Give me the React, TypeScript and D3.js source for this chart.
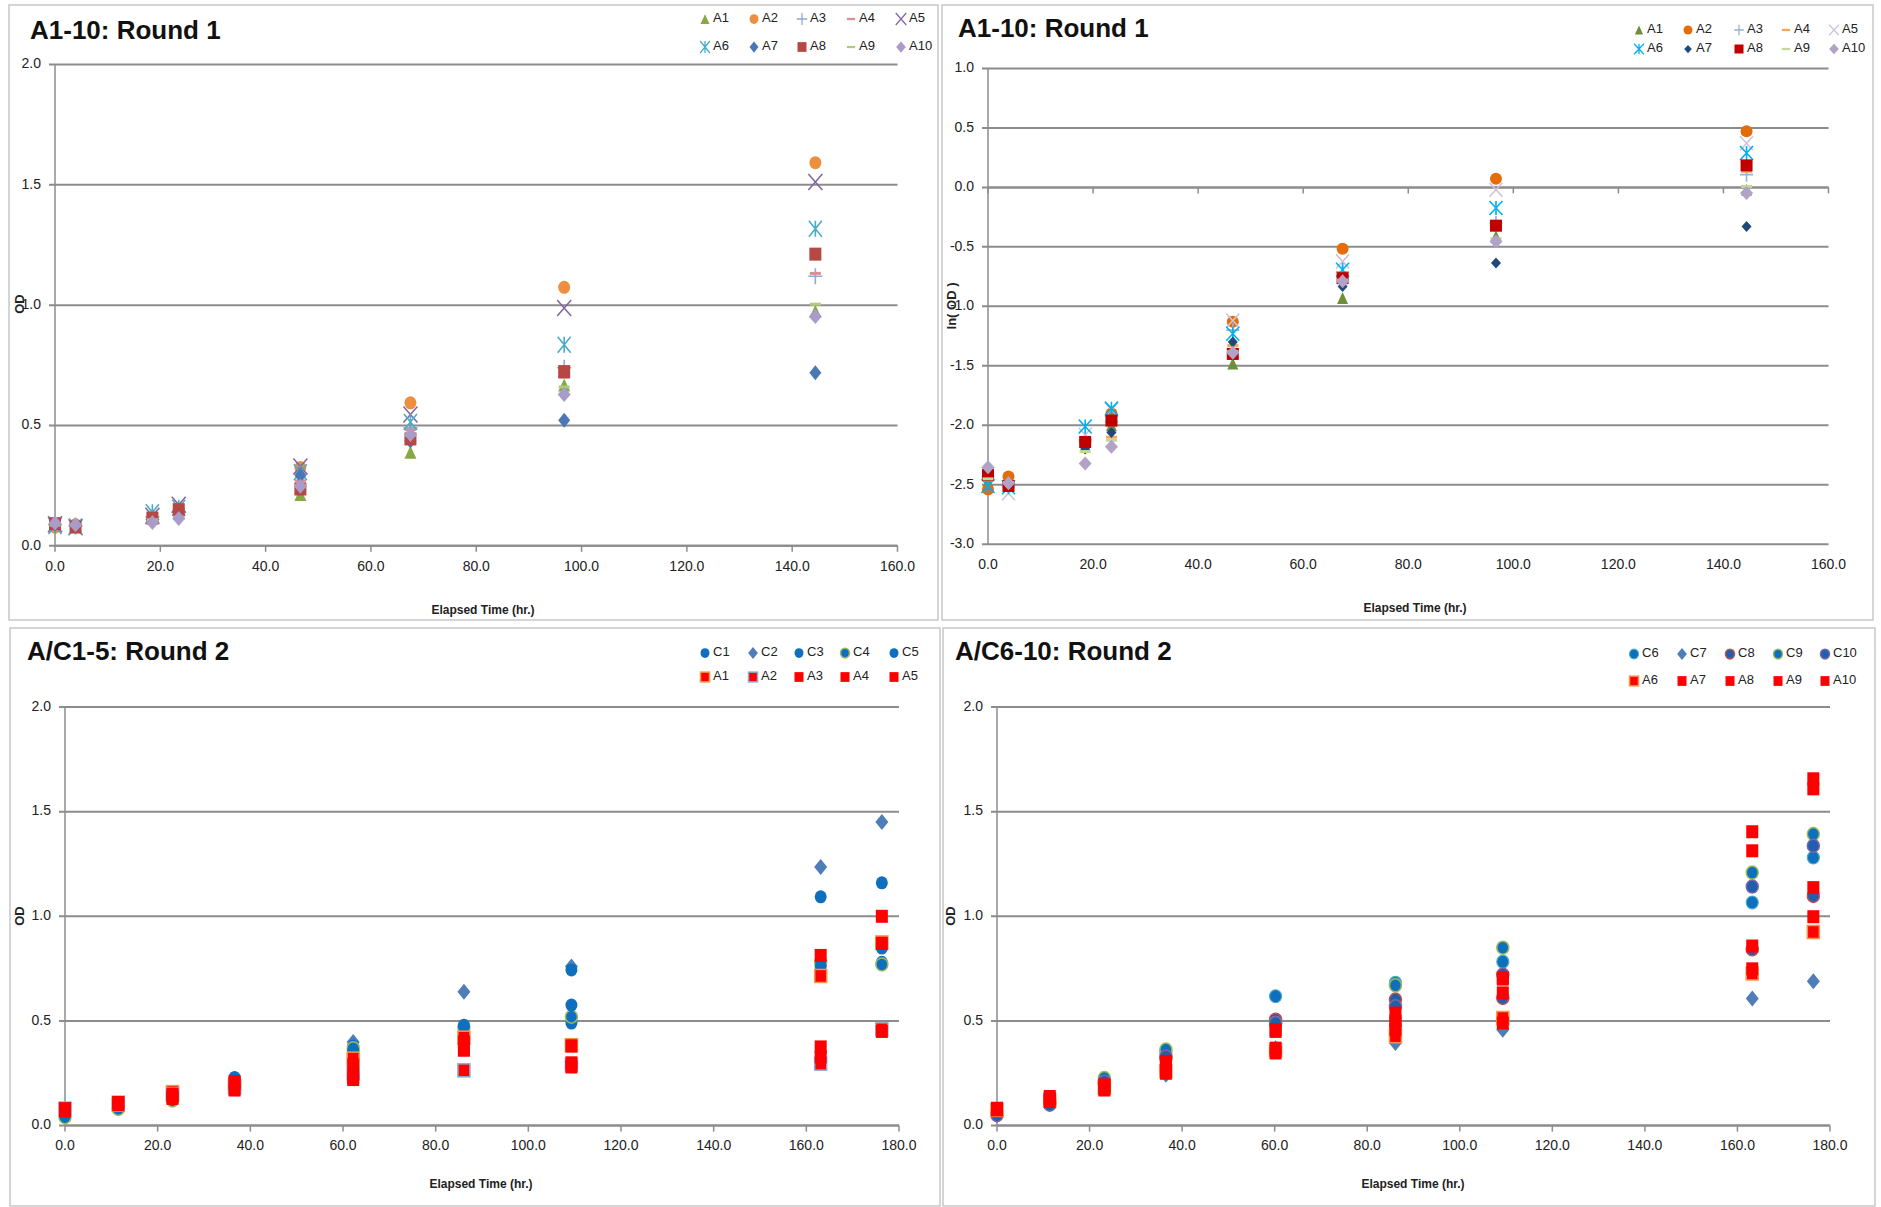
import React from 'react';
import * as d3 from 'd3';

// ---------- Round 1 data (OD) ----------
const TIMES_R1 = [0, 3.9, 18.5, 23.5, 46.6, 67.5, 96.7, 144.4];
const OD_A1 = [0.085, 0.085, 0.122, 0.135, 0.213, 0.389, 0.668, 0.975];
const OD_A2 = [0.078, 0.088, 0.118, 0.15, 0.325, 0.594, 1.074, 1.592];
const OD_A3 = [0.088, 0.083, 0.12, 0.14, 0.3, 0.49, 0.74, 1.12];
const OD_A4 = [0.088, 0.082, 0.118, 0.122, 0.27, 0.483, 0.7, 1.132];
const OD_A5 = [0.09, 0.077, 0.125, 0.171, 0.33, 0.546, 0.988, 1.512];
const OD_A6 = [0.082, 0.08, 0.139, 0.158, 0.306, 0.514, 0.835, 1.317];
const OD_A7 = [0.09, 0.082, 0.11, 0.128, 0.292, 0.435, 0.522, 0.719];
const OD_A8 = [0.092, 0.078, 0.115, 0.15, 0.236, 0.444, 0.724, 1.212];
const OD_A9 = [0.086, 0.084, 0.108, 0.119, 0.25, 0.46, 0.66, 1.004];
const OD_A10 = [0.095, 0.087, 0.097, 0.113, 0.247, 0.462, 0.629, 0.953];

// ---------- Round 1 data (ln OD) ----------
const LN_A1 = [-2.47, -2.47, -2.11, -2.0, -1.48, -0.93, -0.41, -0.02];
const LN_A2 = [-2.54, -2.43, -2.14, -1.9, -1.13, -0.516, 0.073, 0.471];
const LN_A3 = [-2.43, -2.49, -2.12, -1.97, -1.2, -0.71, -0.3, 0.107];
const LN_A4 = [-2.43, -2.5, -2.13, -2.1, -1.33, -0.72, -0.356, 0.135];
const LN_A5 = [-2.41, -2.57, -2.08, -1.87, -1.12, -0.622, -0.02, 0.37];
const LN_A6 = [-2.51, -2.52, -2.01, -1.86, -1.23, -0.692, -0.174, 0.289];
const LN_A7 = [-2.41, -2.5, -2.2, -2.06, -1.3, -0.833, -0.636, -0.328];
const LN_A8 = [-2.417, -2.51, -2.14, -1.96, -1.4, -0.763, -0.322, 0.185];
const LN_A9 = [-2.45, -2.48, -2.22, -2.125, -1.38, -0.78, -0.43, 0.008];
const LN_A10 = [-2.353, -2.486, -2.32, -2.18, -1.39, -0.79, -0.454, -0.048];

// ---------- Round 2, C1-5 / A1-5 ----------
const TIMES_R2A = [0, 11.5, 23.2, 36.6, 62.2, 86.1, 109.3, 163.1, 176.3];
const R2_C1 = [0.04, 0.08, 0.12, 0.22, 0.36, 0.47, 0.49, 0.77, 0.78];
const R2_C2 = [0.05, 0.09, 0.15, 0.21, 0.4, 0.64, 0.76, 1.235, 1.45];
const R2_C3 = [0.05, 0.09, 0.14, 0.23, 0.38, 0.48, 0.744, 1.093, 1.16];
const R2_C4 = [0.04, 0.08, 0.12, 0.21, 0.37, 0.47, 0.52, 0.78, 0.77];
const R2_C5 = [0.05, 0.09, 0.15, 0.22, 0.36, 0.475, 0.576, 0.76, 0.848];
const R2_A1 = [0.08, 0.11, 0.16, 0.19, 0.32, 0.42, 0.384, 0.715, 0.875];
const R2_A2 = [0.08, 0.1, 0.15, 0.18, 0.25, 0.264, 0.29, 0.296, 0.46];
const R2_A3 = [0.08, 0.11, 0.14, 0.2, 0.29, 0.368, 0.38, 0.813, 1.0];
const R2_A4 = [0.07, 0.1, 0.13, 0.17, 0.22, 0.4, 0.28, 0.376, 0.45];
const R2_A5 = [0.08, 0.11, 0.15, 0.21, 0.23, 0.36, 0.3, 0.328, 0.87];

// ---------- Round 2, C6-10 / A6-10 ----------
const TIMES_R2B = [0, 11.4, 23.2, 36.5, 60.2, 86.1, 109.3, 163.2, 176.4];
const R2_C6 = [0.06, 0.11, 0.21, 0.35, 0.618, 0.682, 0.783, 1.066, 1.281];
const R2_C7 = [0.05, 0.12, 0.187, 0.243, 0.37, 0.395, 0.458, 0.607, 0.69];
const R2_C8 = [0.06, 0.11, 0.2, 0.32, 0.506, 0.602, 0.61, 0.842, 1.097];
const R2_C9 = [0.06, 0.12, 0.227, 0.363, 0.49, 0.67, 0.85, 1.209, 1.393];
const R2_C10 = [0.05, 0.1, 0.21, 0.33, 0.49, 0.57, 0.722, 1.142, 1.337];
const R2_A6 = [0.075, 0.12, 0.18, 0.26, 0.36, 0.427, 0.514, 0.727, 0.925];
const R2_A7 = [0.083, 0.139, 0.195, 0.307, 0.458, 0.538, 0.706, 1.404, 1.609];
const R2_A8 = [0.08, 0.115, 0.17, 0.275, 0.347, 0.49, 0.634, 0.858, 1.137];
const R2_A9 = [0.075, 0.13, 0.18, 0.25, 0.37, 0.458, 0.49, 0.749, 0.998];
const R2_A10 = [0.08, 0.125, 0.19, 0.29, 0.45, 0.5, 0.7, 1.313, 1.657];

// ---------- labels ----------
const TITLE_TL = 'A1-10: Round 1';
const TITLE_TR = 'A1-10: Round 1';
const TITLE_BL = 'A/C1-5: Round 2';
const TITLE_BR = 'A/C6-10: Round 2';
const X_TITLE = 'Elapsed Time (hr.)';

type Shape = 'triangle' | 'circle' | 'plus' | 'dash' | 'x' | 'asterisk' | 'diamond' | 'square';
interface MStyle { shape: Shape; fill: string; stroke?: string; sw?: number; w: number; h: number; }
interface Series { name: string; values: number[]; m: MStyle; }

const FONT = '"Liberation Sans", Arial, sans-serif';

function Marker({ x, y, m, k = 1 }: { x: number; y: number; m: MStyle; k?: number }) {
  const w = m.w * k, h = m.h * k;
  const t = `translate(${x},${y})`;
  const sw = m.sw ?? 0;
  switch (m.shape) {
    case 'circle':
      return <ellipse transform={t} rx={w / 2} ry={h / 2} fill={m.fill} stroke={m.stroke ?? 'none'} strokeWidth={sw} />;
    case 'square':
      return <rect transform={t} x={-w / 2} y={-h / 2} width={w} height={h} fill={m.fill} stroke={m.stroke ?? 'none'} strokeWidth={sw} />;
    case 'dash':
      return <rect transform={t} x={-w / 2} y={-h / 2} width={w} height={h} fill={m.fill} />;
    case 'triangle':
      return <path transform={t} d={`M0,${-h / 2}L${w / 2},${h / 2}L${-w / 2},${h / 2}Z`} fill={m.fill} stroke={m.stroke ?? 'none'} strokeWidth={sw} />;
    case 'diamond':
      return <path transform={t} d={`M0,${-h / 2}L${w / 2},0L0,${h / 2}L${-w / 2},0Z`} fill={m.fill} stroke={m.stroke ?? 'none'} strokeWidth={sw} />;
    case 'plus':
      return <path transform={t} d={`M${-w / 2},0H${w / 2}M0,${-h / 2}V${h / 2}`} stroke={m.fill} strokeWidth={1.6 * Math.max(k, 0.8)} fill="none" />;
    case 'x':
      return <path transform={t} d={`M${-w / 2},${-h / 2}L${w / 2},${h / 2}M${w / 2},${-h / 2}L${-w / 2},${h / 2}`} stroke={m.fill} strokeWidth={1.5 * Math.max(k, 0.8)} fill="none" />;
    case 'asterisk':
      return <path transform={t} d={`M${-w / 2},${-h / 2}L${w / 2},${h / 2}M${w / 2},${-h / 2}L${-w / 2},${h / 2}M0,${-h / 2}V${h / 2}`} stroke={m.fill} strokeWidth={1.6 * Math.max(k, 0.8)} fill="none" />;
  }
  return null;
}

interface PanelProps {
  box: [number, number, number, number];
  plot: { x0: number; x1: number; yTop: number; yBot: number };
  xDomain: [number, number];
  yDomain: [number, number];
  xTickCount: number;
  yTickCount: number;
  xAxisAt: number;
  title: string;
  titlePos: [number, number];
  yLabel: string;
  yLabelPos: [number, number];
  xLabelPos: [number, number];
  times: number[];
  series: Series[];
  legendX: number[];
  legendY: [number, number];
  legendK: number;
}

function Panel(p: PanelProps) {
  const x = d3.scaleLinear().domain(p.xDomain).range([p.plot.x0, p.plot.x1]);
  const y = d3.scaleLinear().domain(p.yDomain).range([p.plot.yBot, p.plot.yTop]);
  const xt = x.ticks(p.xTickCount);
  const yt = y.ticks(p.yTickCount);
  const axisY = y(p.xAxisAt);
  const grid = '#8C8C8C';
  return (
    <g>
      <rect x={p.box[0]} y={p.box[1]} width={p.box[2]} height={p.box[3]} fill="#fff" stroke="#C8C8C8" strokeWidth={1.5} />
      {yt.map((v) => (
        <line key={'g' + v} x1={p.plot.x0 - 6} x2={p.plot.x1} y1={y(v)} y2={y(v)} stroke={grid} strokeWidth={2} />
      ))}
      <line x1={p.plot.x0} x2={p.plot.x0} y1={p.plot.yTop} y2={p.plot.yBot} stroke={grid} strokeWidth={1.5} />
      <line x1={p.plot.x0} x2={p.plot.x1} y1={axisY} y2={axisY} stroke={grid} strokeWidth={2} />
      {xt.map((v) => (
        <line key={'t' + v} x1={x(v)} x2={x(v)} y1={axisY} y2={axisY + 6} stroke={grid} strokeWidth={1.5} />
      ))}
      {yt.map((v) => (
        <text key={'yl' + v} x={p.plot.x0 - 14} y={y(v)} textAnchor="end" dominantBaseline="middle" fontFamily={FONT} fontSize={14} fill="#222">
          {v.toFixed(1)}
        </text>
      ))}
      {xt.map((v) => (
        <text key={'xl' + v} x={x(v)} y={p.plot.yBot + 21} textAnchor="middle" dominantBaseline="middle" fontFamily={FONT} fontSize={14} fill="#222">
          {v.toFixed(1)}
        </text>
      ))}
      <text x={p.titlePos[0]} y={p.titlePos[1]} dominantBaseline="middle" fontFamily={FONT} fontWeight="bold" fontSize={26} fill="#111">
        {p.title}
      </text>
      <text x={p.xLabelPos[0]} y={p.xLabelPos[1]} textAnchor="middle" dominantBaseline="middle" fontFamily={FONT} fontWeight="bold" fontSize={12} fill="#222">
        {X_TITLE}
      </text>
      <text transform={`translate(${p.yLabelPos[0]},${p.yLabelPos[1]}) rotate(-90)`} textAnchor="middle" dominantBaseline="middle" fontFamily={FONT} fontWeight="bold" fontSize={13} fill="#222">
        {p.yLabel}
      </text>
      {p.series.map((s) => (
        <g key={s.name}>
          {s.values.map((v, i) => (
            <Marker key={i} x={x(p.times[i])} y={y(v)} m={s.m} />
          ))}
        </g>
      ))}
      {p.series.map((s, i) => {
        const col = i % 5;
        const row = Math.floor(i / 5);
        const mx = p.legendX[col];
        const my = p.legendY[row];
        return (
          <g key={'lg' + s.name}>
            <Marker x={mx} y={my} m={s.m} k={p.legendK} />
            <text x={mx + 8} y={my} dominantBaseline="middle" fontFamily={FONT} fontSize={13} fill="#222">
              {s.name}
            </text>
          </g>
        );
      })}
    </g>
  );
}

// marker styles
const S_TL: MStyle[] = [
  { shape: 'triangle', fill: '#86A845', w: 12, h: 13 },
  { shape: 'circle', fill: '#EE8F40', w: 12, h: 13 },
  { shape: 'plus', fill: '#8EA8D8', w: 14, h: 16 },
  { shape: 'dash', fill: '#D98F94', w: 11, h: 3 },
  { shape: 'x', fill: '#8064A2', w: 14, h: 16 },
  { shape: 'asterisk', fill: '#4BACC6', w: 13, h: 16 },
  { shape: 'diamond', fill: '#4A78B5', w: 12, h: 15 },
  { shape: 'square', fill: '#B54744', w: 12, h: 13 },
  { shape: 'dash', fill: '#AFCB80', w: 11, h: 3 },
  { shape: 'diamond', fill: '#AA9CC8', w: 13, h: 15 },
];
const S_TR: MStyle[] = [
  { shape: 'triangle', fill: '#6E8F3A', w: 11, h: 12 },
  { shape: 'circle', fill: '#E46C0A', w: 12, h: 12 },
  { shape: 'plus', fill: '#95B3D7', w: 13, h: 14 },
  { shape: 'dash', fill: '#F9A55A', w: 11, h: 3 },
  { shape: 'x', fill: '#CCC1DA', w: 13, h: 14 },
  { shape: 'asterisk', fill: '#00B0F0', w: 13, h: 14 },
  { shape: 'diamond', fill: '#1F497D', w: 10, h: 11 },
  { shape: 'square', fill: '#C00000', w: 12, h: 12 },
  { shape: 'dash', fill: '#C3D69B', w: 11, h: 3 },
  { shape: 'diamond', fill: '#B3A2C7', w: 13, h: 14 },
];
const BLUE = '#0F6FBF';
const RED = '#FF0000';
const S_BL: MStyle[] = [
  { shape: 'circle', fill: BLUE, w: 12, h: 13 },
  { shape: 'diamond', fill: '#4F7DB8', w: 13, h: 16 },
  { shape: 'circle', fill: BLUE, w: 12, h: 13 },
  { shape: 'circle', fill: BLUE, stroke: '#9BBB59', sw: 1.5, w: 12, h: 13 },
  { shape: 'circle', fill: BLUE, w: 12, h: 13 },
  { shape: 'square', fill: RED, stroke: '#F79646', sw: 1.5, w: 12, h: 13 },
  { shape: 'square', fill: RED, stroke: '#8EA9DB', sw: 1.5, w: 12, h: 13 },
  { shape: 'square', fill: RED, w: 12, h: 13 },
  { shape: 'square', fill: RED, w: 12, h: 13 },
  { shape: 'square', fill: RED, w: 12, h: 13 },
];
const S_BR: MStyle[] = [
  { shape: 'circle', fill: BLUE, stroke: '#4BACC6', sw: 1.2, w: 12, h: 13 },
  { shape: 'diamond', fill: '#4F7DB8', w: 13, h: 16 },
  { shape: 'circle', fill: '#1F5FAF', stroke: '#C0504D', sw: 1.5, w: 12, h: 13 },
  { shape: 'circle', fill: BLUE, stroke: '#9BBB59', sw: 1.5, w: 12, h: 13 },
  { shape: 'circle', fill: '#1F5FAF', stroke: '#8064A2', sw: 1.5, w: 12, h: 13 },
  { shape: 'square', fill: RED, stroke: '#F79646', sw: 1.5, w: 12, h: 13 },
  { shape: 'square', fill: RED, w: 12, h: 13 },
  { shape: 'square', fill: RED, w: 12, h: 13 },
  { shape: 'square', fill: RED, w: 12, h: 13 },
  { shape: 'square', fill: RED, w: 12, h: 13 },
];

const NAMES_A = ['A1', 'A2', 'A3', 'A4', 'A5', 'A6', 'A7', 'A8', 'A9', 'A10'];
const OD_R1 = [OD_A1, OD_A2, OD_A3, OD_A4, OD_A5, OD_A6, OD_A7, OD_A8, OD_A9, OD_A10];
const LN_R1 = [LN_A1, LN_A2, LN_A3, LN_A4, LN_A5, LN_A6, LN_A7, LN_A8, LN_A9, LN_A10];
const NAMES_BL = ['C1', 'C2', 'C3', 'C4', 'C5', 'A1', 'A2', 'A3', 'A4', 'A5'];
const VALS_BL = [R2_C1, R2_C2, R2_C3, R2_C4, R2_C5, R2_A1, R2_A2, R2_A3, R2_A4, R2_A5];
const NAMES_BR = ['C6', 'C7', 'C8', 'C9', 'C10', 'A6', 'A7', 'A8', 'A9', 'A10'];
const VALS_BR = [R2_C6, R2_C7, R2_C8, R2_C9, R2_C10, R2_A6, R2_A7, R2_A8, R2_A9, R2_A10];

const mk = (names: string[], vals: number[][], styles: MStyle[]): Series[] =>
  names.map((n, i) => ({ name: n, values: vals[i], m: styles[i] }));

export default function App() {
  return (
    <div style={{ position: 'absolute', left: 0, top: 0 }}>
      <svg width={1881} height={1207} style={{ display: 'block', background: '#fff' }}>
        <Panel
          box={[9, 5, 929, 615]}
          plot={{ x0: 55, x1: 897.5, yTop: 64.5, yBot: 545.8 }}
          xDomain={[0, 160]} yDomain={[0, 2]} xTickCount={8} yTickCount={4} xAxisAt={0}
          title={TITLE_TL} titlePos={[30, 32]} yLabel="OD" yLabelPos={[21, 304]} xLabelPos={[483, 611]}
          times={TIMES_R1} series={mk(NAMES_A, OD_R1, S_TL)}
          legendX={[705, 754, 802, 851, 901]} legendY={[19, 47]} legendK={0.75}
        />
        <Panel
          box={[942, 5, 931, 615]}
          plot={{ x0: 988, x1: 1828.5, yTop: 68.4, yBot: 544.3 }}
          xDomain={[0, 160]} yDomain={[-3, 1]} xTickCount={8} yTickCount={8} xAxisAt={0}
          title={TITLE_TR} titlePos={[958, 30]} yLabel="ln( OD )" yLabelPos={[953, 306]} xLabelPos={[1415, 609]}
          times={TIMES_R1} series={mk(NAMES_A, LN_R1, S_TR)}
          legendX={[1639, 1688, 1739, 1786, 1834]} legendY={[30, 49]} legendK={0.75}
        />
        <Panel
          box={[10, 628, 930, 578]}
          plot={{ x0: 65, x1: 899, yTop: 707, yBot: 1125.6 }}
          xDomain={[0, 180]} yDomain={[0, 2]} xTickCount={9} yTickCount={4} xAxisAt={0}
          title={TITLE_BL} titlePos={[27, 653]} yLabel="OD" yLabelPos={[21, 916]} xLabelPos={[481, 1185]}
          times={TIMES_R2A} series={mk(NAMES_BL, VALS_BL, S_BL)}
          legendX={[705, 753, 799, 845, 894]} legendY={[653, 677]} legendK={0.75}
        />
        <Panel
          box={[943, 628, 932, 578]}
          plot={{ x0: 997, x1: 1830, yTop: 707, yBot: 1125.6 }}
          xDomain={[0, 180]} yDomain={[0, 2]} xTickCount={9} yTickCount={4} xAxisAt={0}
          title={TITLE_BR} titlePos={[955, 653]} yLabel="OD" yLabelPos={[952, 916]} xLabelPos={[1413, 1185]}
          times={TIMES_R2B} series={mk(NAMES_BR, VALS_BR, S_BR)}
          legendX={[1634, 1682, 1730, 1778, 1825]} legendY={[654, 681]} legendK={0.75}
        />
      </svg>
    </div>
  );
}
